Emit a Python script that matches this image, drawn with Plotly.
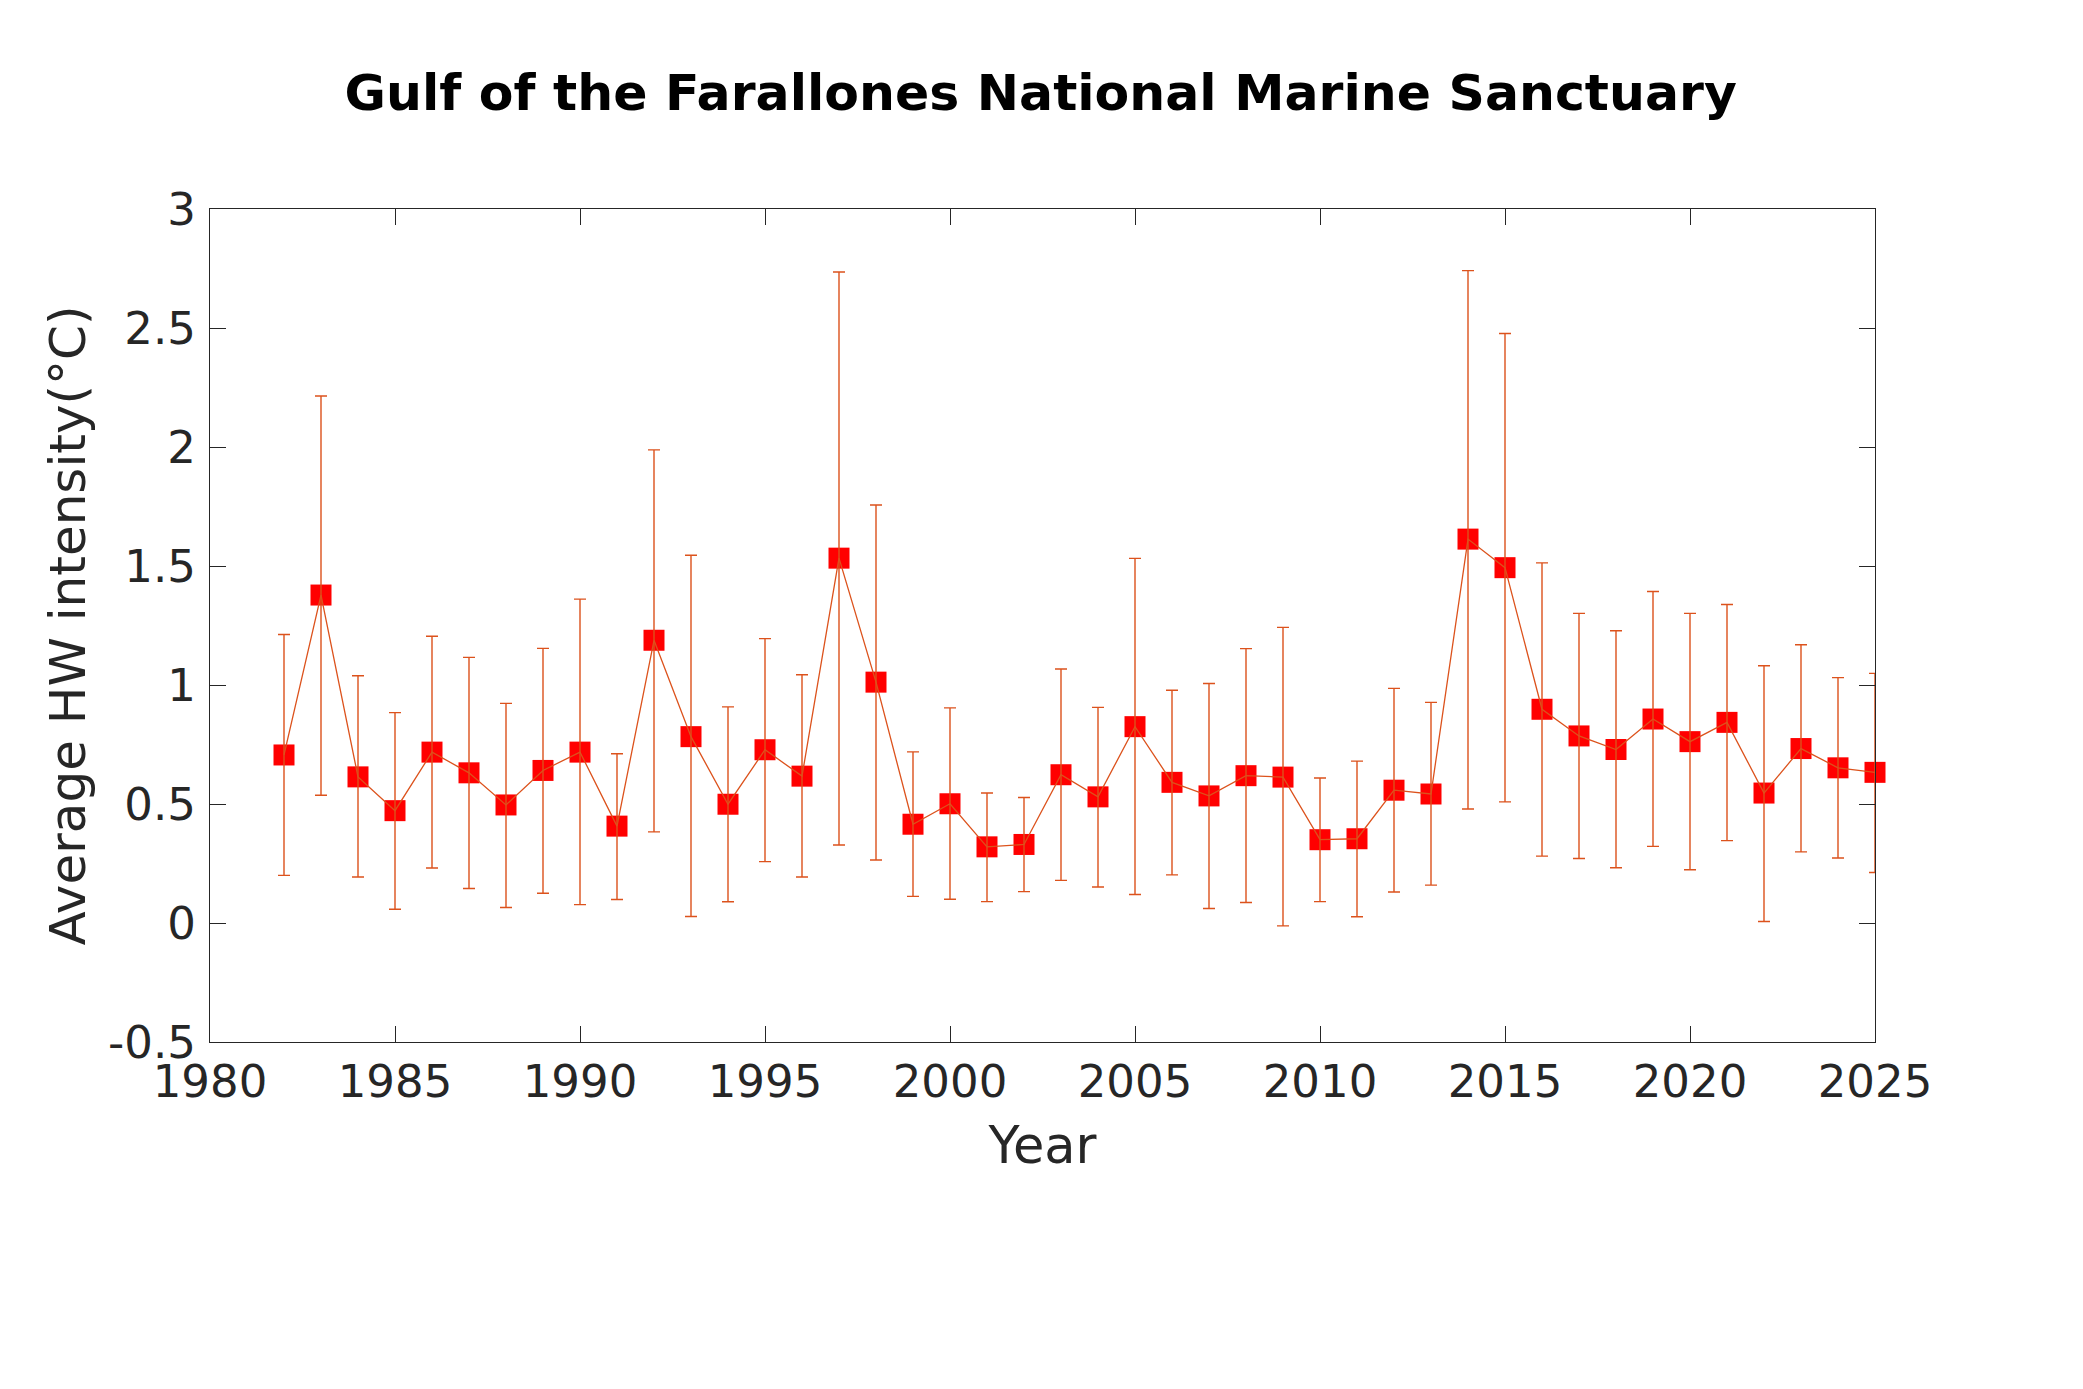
import plotly.graph_objects as go

years = list(range(1982, 2026))
mean_int = [0.706, 1.378, 0.614, 0.472, 0.718, 0.631, 0.496, 0.641, 0.718, 0.407,
            1.188, 0.783, 0.499, 0.728, 0.617, 1.533, 1.012, 0.415, 0.501, 0.320,
            0.330, 0.623, 0.530, 0.825, 0.591, 0.534, 0.619, 0.613, 0.350, 0.354,
            0.558, 0.542, 1.613, 1.493, 0.898, 0.786, 0.729, 0.857, 0.762, 0.843,
            0.546, 0.733, 0.652, 0.633]
err_hi = [0.506, 0.836, 0.425, 0.412, 0.487, 0.485, 0.427, 0.513, 0.643, 0.304,
          0.800, 0.762, 0.409, 0.467, 0.426, 1.202, 0.744, 0.304, 0.403, 0.226,
          0.197, 0.444, 0.376, 0.707, 0.387, 0.472, 0.534, 0.629, 0.259, 0.326,
          0.428, 0.385, 1.128, 0.984, 0.615, 0.515, 0.499, 0.536, 0.539, 0.495,
          0.535, 0.436, 0.379, 0.416]
err_lo = [0.506, 0.841, 0.421, 0.414, 0.487, 0.486, 0.431, 0.516, 0.641, 0.308,
          0.805, 0.756, 0.410, 0.470, 0.424, 1.205, 0.747, 0.303, 0.401, 0.230,
          0.198, 0.444, 0.379, 0.705, 0.389, 0.473, 0.533, 0.625, 0.260, 0.328,
          0.428, 0.383, 1.134, 0.984, 0.617, 0.515, 0.497, 0.535, 0.538, 0.497,
          0.540, 0.434, 0.379, 0.421]

y_ticks = [-0.5, 0, 0.5, 1, 1.5, 2, 2.5, 3]
y_ticktext = ['-0.5', '0', '0.5', '1', '1.5', '2', '2.5', '3']
x_ticks = [1980, 1985, 1990, 1995, 2000, 2005, 2010, 2015, 2020, 2025]

line_col = '#DC521C'
axis_col = '#262626'

fig = go.Figure()

# markers underneath, line + error bars on top (as in the original)
fig.add_trace(go.Scatter(x=years, y=mean_int, mode='markers', cliponaxis=False,
                         marker=dict(symbol='square', size=21, color='#FF0000',
                                     line=dict(width=0)),
                         showlegend=False))
fig.add_trace(go.Scatter(x=years, y=mean_int, mode='lines', cliponaxis=False,
                         line=dict(color=line_col, width=1.3),
                         error_y=dict(type='data', symmetric=False, array=err_hi, arrayminus=err_lo,
                                      color=line_col, thickness=1.4, width=6),
                         showlegend=False))

fig.update_layout(
    width=2083, height=1389,
    plot_bgcolor='white', paper_bgcolor='white',
    font=dict(family='DejaVu Sans', color=axis_col),
    margin=dict(l=202, r=216, t=201, b=355),
    title=dict(text='<b>Gulf of the Farallones National Marine Sanctuary</b>',
               font=dict(family='DejaVu Sans', size=50.5, color='black'),
               x=0.4958, xanchor='center', y=1 - 84 / 1389, yanchor='middle'),
)
fig.update_xaxes(range=[1980, 2025], tickvals=x_ticks, ticks='inside', ticklen=16,
                 tickcolor=axis_col, tickwidth=1.3, showline=True, linecolor=axis_col,
                 linewidth=1.3, mirror='ticks', showgrid=False, zeroline=False,
                 tickfont=dict(size=45), title=dict(text='Year', font=dict(size=51), standoff=20))
fig.update_yaxes(range=[-0.5, 3], tickvals=y_ticks, ticktext=y_ticktext, ticks='inside',
                 ticklen=16, tickcolor=axis_col, tickwidth=1.3, showline=True, linecolor=axis_col,
                 linewidth=1.3, mirror='ticks', showgrid=False, zeroline=False,
                 tickfont=dict(size=45), ticklabelstandoff=4,
                 title=dict(text='Average HW intensity(°C)', font=dict(size=50), standoff=6))

fig.write_html('out.html')
